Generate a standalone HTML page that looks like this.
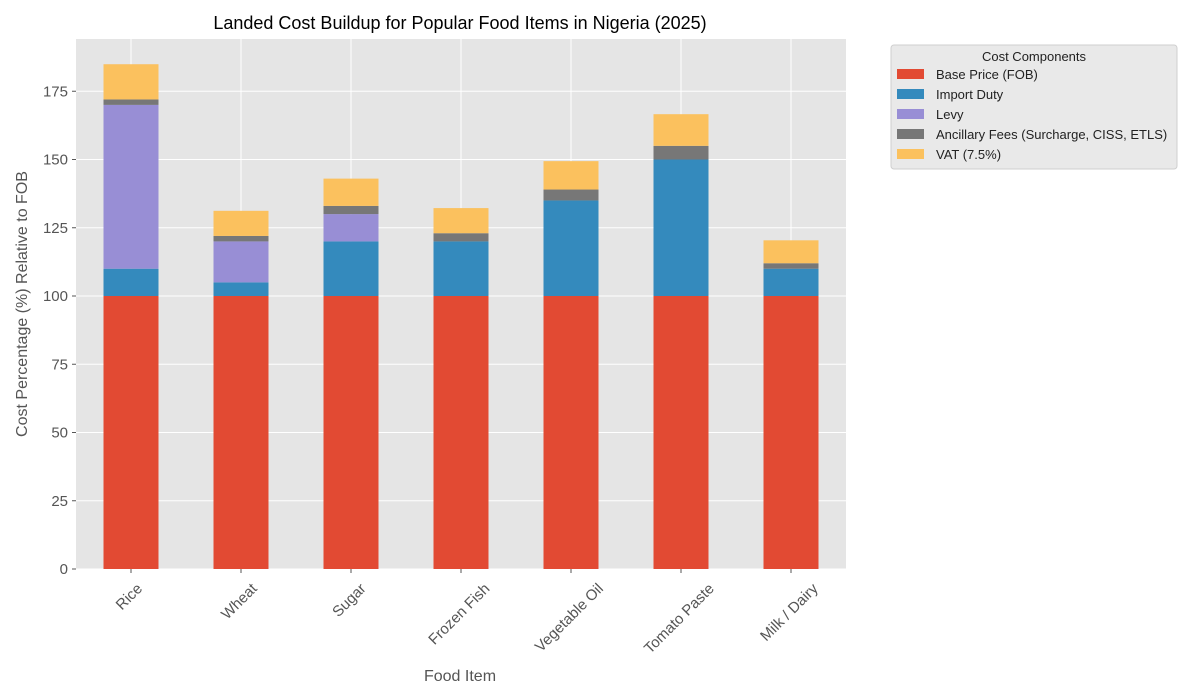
<!DOCTYPE html>
<html><head><meta charset="utf-8">
<style>
html,body{margin:0;padding:0;background:#fff;}
svg{display:block;font-family:"Liberation Sans",sans-serif;}
</style></head>
<body>
<svg id="chart" width="1200" height="700" viewBox="0 0 1200 700">
<text x="460" y="29" text-anchor="middle" font-size="18" fill="#000">Landed Cost Buildup for Popular Food Items in Nigeria (2025)</text>
<rect x="76" y="39" width="770" height="530" fill="#e5e5e5"/>
<g id="grid"></g>
<g id="bars"></g>
<g id="axes"></g>
<text x="460" y="681" text-anchor="middle" font-size="16" fill="#555">Food Item</text>
<text transform="translate(27,304) rotate(-90)" text-anchor="middle" font-size="16" fill="#555">Cost Percentage (%) Relative to FOB</text>
<g id="legend">
<rect x="891" y="45" width="286" height="124" rx="3" fill="#e9e9e9" stroke="#cfcfcf"/>
<text x="1034" y="61" text-anchor="middle" font-size="13" fill="#222">Cost Components</text>
</g>
</svg>
<script>
const categories = ["Rice","Wheat","Sugar","Frozen Fish","Vegetable Oil","Tomato Paste","Milk / Dairy"];
const basePrice = [100,100,100,100,100,100,100];
const importDuty = [10,5,20,20,35,50,10];
const levy = [60,15,10,0,0,0,0];
const ancillary = [2,2,3,3,4,5,2];
const vat = [12.9,9.2,10.0,9.2,10.4,11.6,8.4];
const yTicks = [0,25,50,75,100,125,150,175];
const seriesNames = ["Base Price (FOB)","Import Duty","Levy","Ancillary Fees (Surcharge, CISS, ETLS)","VAT (7.5%)"];
const seriesColors = ["#e24a33","#348abd","#988ed5","#777777","#fbc15e"];
const series = [basePrice, importDuty, levy, ancillary, vat];

const NS = "http://www.w3.org/2000/svg";
const x0 = 76, plotW = 770, y0 = 569, pxPer = 2.73;
const band = plotW / categories.length, barW = 55;
const yScale = v => y0 - v * pxPer;
const xCenter = i => x0 + band * (i + 0.5);
function mk(tag, attrs, parent){ const e = document.createElementNS(NS, tag); for (const k in attrs) e.setAttribute(k, attrs[k]); parent.appendChild(e); return e; }

const grid = document.getElementById('grid'), axes = document.getElementById('axes'), bars = document.getElementById('bars');
yTicks.forEach(t => {
  const y = yScale(t);
  const g = mk('line', {x1:x0, x2:x0+plotW, y1:y, y2:y, stroke:'#fff', 'stroke-width':1}, grid);
  
  
  const tk = mk('line', {x1:x0-4, x2:x0, y1:y, y2:y, stroke:'#555'}, axes);
  
  
  const lb = mk('text', {x:x0-8, y:y+5, 'text-anchor':'end', 'font-size':15, fill:'#555'}, axes);
  lb.textContent = t;
  
  
});
categories.forEach((c, i) => {
  const x = xCenter(i);
  const g = mk('line', {x1:x, x2:x, y1:39, y2:y0, stroke:'#fff', 'stroke-width':1}, grid);
  
  
  let cum = 0;
  series.forEach((s, k) => {
    const v = s[i];
    if (v > 0) {
      const r = mk('rect', {x:x-barW/2, y:yScale(cum+v), width:barW, height:v*pxPer, fill:seriesColors[k]}, bars);
      
      
    }
    cum += v;
  });
  const tk = mk('line', {x1:x, x2:x, y1:y0, y2:y0+4, stroke:'#555'}, axes);
  
  
  const lb = mk('text', {x:x, y:0, 'text-anchor':'middle', 'font-size':15, fill:'#555'}, axes);
  lb.textContent = c;
  
  
  const L = lb.getComputedTextLength();
  const h = (L + 14) * 0.7071;
  const cy = y0 + 12 + h / 2;
  const cx = x - 2;
  lb.setAttribute('x', cx);
  lb.setAttribute('y', cy + 5);
  lb.setAttribute('transform', `rotate(-45 ${cx} ${cy})`);
});
const leg = document.getElementById('legend');
seriesNames.forEach((n, k) => {
  const y = 69 + k * 20;
  const r = mk('rect', {x:897, y:y, width:27, height:10, fill:seriesColors[k]}, leg);
  
  
  const t = mk('text', {x:936, y:y+10, 'font-size':13, fill:'#222'}, leg);
  t.textContent = n;
  
  
});
</script>
</body></html>
